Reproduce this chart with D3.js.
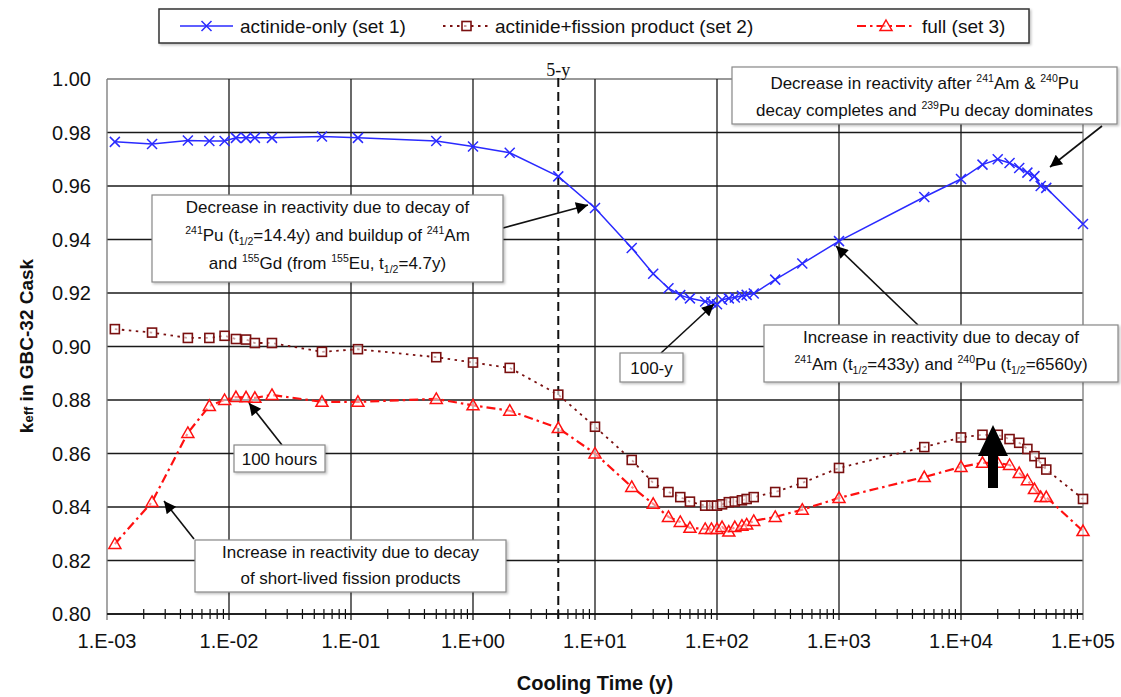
<!DOCTYPE html>
<html><head><meta charset="utf-8">
<script src="https://cdn.jsdelivr.net/npm/d3@7"></script>
<style>body{margin:0;background:#fff}svg{display:block}text{font-family:"Liberation Sans",Arial,sans-serif;fill:#111}</style>
</head><body><svg id="c" width="1121" height="697"></svg>
<script>
// ---------- data ----------
const times=[0.00116,0.00234,0.0046,0.0069,0.0092,0.0114,0.0138,0.0163,0.0225,0.0578,0.114,0.5,1,2,5,10,20,30,40,50,60,80,90,100,110,125,140,160,175,200,300,500,1000,5000,10000,15000,20000,25000,30000,35000,40000,45000,50000,100000];
const set1=[0.9765,0.9757,0.977,0.9768,0.9768,0.978,0.978,0.978,0.978,0.9785,0.978,0.9768,0.9748,0.9724,0.9636,0.9518,0.9368,0.9272,0.9218,0.9192,0.918,0.9168,0.9165,0.9158,0.9175,0.918,0.9183,0.919,0.9193,0.9198,0.925,0.931,0.9394,0.9559,0.9626,0.968,0.970,0.9686,0.9667,0.965,0.9637,0.960,0.9593,0.9458];
const set2=[0.9065,0.9052,0.9032,0.9032,0.904,0.9028,0.9026,0.9013,0.9013,0.898,0.899,0.896,0.894,0.892,0.882,0.870,0.8576,0.849,0.8456,0.8437,0.842,0.8405,0.8405,0.8405,0.841,0.8418,0.842,0.8425,0.843,0.8437,0.8456,0.849,0.8546,0.8624,0.866,0.867,0.867,0.8654,0.864,0.8617,0.859,0.8565,0.854,0.843];
const set3=[0.8262,0.8419,0.8677,0.8778,0.880,0.8811,0.881,0.8808,0.8819,0.8793,0.8793,0.8804,0.878,0.876,0.8695,0.860,0.8475,0.8412,0.8363,0.8344,0.8322,0.8318,0.8318,0.8318,0.8325,0.8308,0.8325,0.833,0.8335,0.8348,0.8363,0.839,0.8434,0.8512,0.855,0.8565,0.8565,0.8557,0.8527,0.850,0.8467,0.8437,0.8437,0.831];
const seriesNames=["actinide-only (set 1)","actinide+fission product (set 2)","full (set 3)"];
const xTickValues=[1e-3,1e-2,1e-1,1e0,1e1,1e2,1e3,1e4,1e5];
const xTickLabels=["1.E-03","1.E-02","1.E-01","1.E+00","1.E+01","1.E+02","1.E+03","1.E+04","1.E+05"];
const yTickValues=[0.80,0.82,0.84,0.86,0.88,0.90,0.92,0.94,0.96,0.98,1.00];
const yTickLabels=["0.80","0.82","0.84","0.86","0.88","0.90","0.92","0.94","0.96","0.98","1.00"];
const xTitle="Cooling Time (y)";
const fiveYear=5;

// ---------- setup ----------
const svg=d3.select("#c");
const L=107,R=1083,T=79,B=614;
const x=d3.scaleLog().domain([1e-3,1e5]).range([L,R]);
const y=d3.scaleLinear().domain([0.8,1.0]).range([B,T]);

const defs=svg.append("defs");
defs.append("marker").attr("id","ah").attr("viewBox","0 0 10 10").attr("refX",10).attr("refY",5)
  .attr("markerWidth",16).attr("markerHeight",12).attr("markerUnits","userSpaceOnUse").attr("orient","auto")
  .append("path").attr("d","M0,0L10,5L0,10Z").attr("fill","#000");
const sh=defs.append("filter").attr("id","sh").attr("x","-5%").attr("y","-5%").attr("width","115%").attr("height","130%");
sh.append("feDropShadow").attr("dx",1.5).attr("dy",1.5).attr("stdDeviation",1).attr("flood-color","#000").attr("flood-opacity",0.25);

// ---------- grid ----------
const g=svg.append("g");
g.selectAll(".hg").data(yTickValues).join("line")
  .attr("x1",L).attr("x2",R).attr("y1",d=>y(d)).attr("y2",d=>y(d))
  .attr("stroke",d=>d===1.0?"#777":"#1a1a1a").attr("stroke-width",1.3);
g.selectAll(".vg").data(xTickValues).join("line")
  .attr("x1",d=>x(d)).attr("x2",d=>x(d)).attr("y1",T).attr("y2",B+6)
  .attr("stroke",(d,i)=>(i===0||i===xTickValues.length-1)?"#777":"#1a1a1a").attr("stroke-width",1.3);
// bottom axis line
g.append("line").attr("x1",L).attr("x2",R).attr("y1",B).attr("y2",B).attr("stroke","#111").attr("stroke-width",1.5);
// minor ticks
const minors=[];
xTickValues.slice(0,-1).forEach(d=>{for(let k=2;k<=9;k++)minors.push(k*d);});
g.selectAll(".mt").data(minors).join("line")
  .attr("x1",d=>x(d)).attr("x2",d=>x(d)).attr("y1",B-5).attr("y2",B+5)
  .attr("stroke","#111").attr("stroke-width",1.2);

// tick labels
svg.selectAll(".yl").data(yTickValues).join("text")
  .attr("x",91).attr("y",d=>y(d)+7).attr("text-anchor","end").attr("font-size",20)
  .text((d,i)=>yTickLabels[i]);
svg.selectAll(".xl").data(xTickValues).join("text")
  .attr("x",d=>x(d)).attr("y",648).attr("text-anchor","middle").attr("font-size",20)
  .text((d,i)=>xTickLabels[i]);
// axis titles
svg.append("text").attr("x",(L+R)/2).attr("y",690).attr("text-anchor","middle")
  .attr("font-size",20).attr("font-weight","bold").text(xTitle);
const yt=svg.append("text").attr("transform","translate(33,346) rotate(-90)").attr("text-anchor","middle")
  .attr("font-size",19).attr("font-weight","bold");
yt.append("tspan").text("k");
yt.append("tspan").attr("font-size",13).text("eff");
yt.append("tspan").text(" in GBC-32 Cask");

// 5-y line
svg.append("line").attr("x1",x(fiveYear)).attr("x2",x(fiveYear)).attr("y1",78).attr("y2",B+6)
  .attr("stroke","#111").attr("stroke-width",2).attr("stroke-dasharray","9,5");
svg.append("text").attr("x",x(fiveYear)).attr("y",76).attr("text-anchor","middle")
  .attr("font-size",18).style("font-family","'Liberation Serif','Times New Roman',serif").text("5-y");

// ---------- series ----------
const styles=[
  {data:set1,color:"#2a2aff",width:1.5,dash:null,marker:"x"},
  {data:set2,color:"#7a1010",width:1.8,dash:"2.5,4.5",marker:"sq"},
  {data:set3,color:"#ff1010",width:2.2,dash:"9,4,2.5,4",marker:"tri"}
];
const line=d3.line().x(d=>x(d[0])).y(d=>y(d[1]));
function drawMarker(sel,type,color){
  if(type==="x"){
    sel.append("path").attr("d","M-5,-5L5,5M-5,5L5,-5").attr("stroke",color).attr("stroke-width",1.5).attr("fill","none");
  }else if(type==="sq"){
    sel.append("rect").attr("x",-4.5).attr("y",-4.5).attr("width",9).attr("height",9)
      .attr("fill","#fff").attr("fill-opacity",0.6).attr("stroke",color).attr("stroke-width",1.6);
  }else{
    sel.append("path").attr("d","M0,-6L6,4.5L-6,4.5Z").attr("fill","#fff").attr("fill-opacity",0.5)
      .attr("stroke",color).attr("stroke-width",1.5);
  }
}
styles.forEach(s=>{
  const pts=times.map((t,i)=>[t,s.data[i]]);
  svg.append("path").datum(pts).attr("d",line).attr("fill","none").attr("stroke",s.color)
    .attr("stroke-width",s.width).attr("stroke-dasharray",s.dash);
  svg.append("g").selectAll("g").data(pts).join("g")
    .attr("transform",d=>`translate(${x(d[0])},${y(d[1])})`)
    .each(function(){drawMarker(d3.select(this),s.marker,s.color);});
});

// ---------- legend ----------
const lg=svg.append("g");
lg.append("rect").attr("x",159).attr("y",9).attr("width",870).attr("height",34)
  .attr("fill","#fff").attr("stroke","#333").attr("stroke-width",1.5).attr("filter","url(#sh)");
const legPos=[{x1:180,x2:233,tx:240},{x1:443,x2:490,tx:495},{x1:857,x2:915,tx:922}];
styles.forEach((s,i)=>{
  const p=legPos[i];
  lg.append("line").attr("x1",p.x1).attr("x2",p.x2).attr("y1",26).attr("y2",26)
    .attr("stroke",s.color).attr("stroke-width",s.width).attr("stroke-dasharray",s.dash);
  drawMarker(lg.append("g").attr("transform",`translate(${(p.x1+p.x2)/2},26)`),s.marker,s.color);
  lg.append("text").attr("x",p.tx).attr("y",33).attr("font-size",19).text(seriesNames[i]);
});

// ---------- annotations ----------
function rich(sel,cx,by,str,size){
  const t=sel.append("text").attr("x",cx).attr("y",by).attr("text-anchor","middle").attr("font-size",size);
  const parts=str.split(/(\^\{[^}]*\}|_\{[^}]*\})/).filter(s=>s.length);
  let cur=0;
  parts.forEach(p=>{
    let k="n",s=p;
    if(p.startsWith("^{")){k="sup";s=p.slice(2,-1);}
    else if(p.startsWith("_{")){k="sub";s=p.slice(2,-1);}
    const off=k==="sup"?-size*0.4:k==="sub"?size*0.25:0;
    const ts=t.append("tspan").attr("dy",off-cur).text(s);
    if(k!=="n")ts.attr("font-size",size*0.62);
    cur=off;
  });
}
const anns=[
  {box:[732,67,1117,124],lines:["Decrease in reactivity after ^{241}Am & ^{240}Pu","decay completes and ^{239}Pu decay dominates"],ys:[89,116],from:[1102,126],to:[1050,167]},
  {box:[152,195,503,282],lines:["Decrease in reactivity due to decay of","^{241}Pu (t_{1/2}=14.4y) and buildup of ^{241}Am","and ^{155}Gd (from ^{155}Eu, t_{1/2}=4.7y)"],ys:[213,241,269],from:[503,228],to:[588,205]},
  {box:[620,353,683,382],lines:["100-y"],ys:[374],from:[661,353],to:[714,304]},
  {box:[764,325,1118,382],lines:["Increase in reactivity due to decay of","^{241}Am (t_{1/2}=433y) and ^{240}Pu (t_{1/2}=6560y)"],ys:[343,370],from:[918,325],to:[836,246]},
  {box:[234,445,325,472],lines:["100 hours"],ys:[465],from:[282,445],to:[249,403]},
  {box:[195,540,506,592],lines:["Increase in reactivity due to decay","of short-lived fission products"],ys:[558,584],from:[194,539],to:[164,501]}
];
const ag=svg.append("g");
anns.forEach(a=>{
  ag.append("line").attr("x1",a.from[0]).attr("y1",a.from[1]).attr("x2",a.to[0]).attr("y2",a.to[1])
    .attr("stroke","#111").attr("stroke-width",1.6).attr("marker-end","url(#ah)");
});
anns.forEach(a=>{
  const [x0,y0,x1,y1]=a.box;
  ag.append("rect").attr("x",x0).attr("y",y0).attr("width",x1-x0).attr("height",y1-y0)
    .attr("fill","#fff").attr("stroke","#888").attr("stroke-width",1.2).attr("filter","url(#sh)");
  a.lines.forEach((l,i)=>rich(ag,(x0+x1)/2,a.ys[i],l,17));
});
// big up arrow
const bx=993;
ag.append("path").attr("d",`M${bx},425L${bx+15},456L${bx+5},456L${bx+5},488L${bx-5},488L${bx-5},456L${bx-15},456Z`).attr("fill","#000");
</script></body></html>
